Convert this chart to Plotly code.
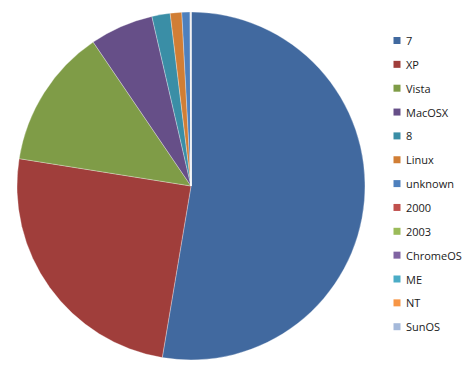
import plotly.graph_objects as go

labels = ["7", "XP", "Vista", "MacOSX", "8", "Linux", "unknown",
          "2000", "2003", "ChromeOS", "ME", "NT", "SunOS"]
values = [52.7, 24.9, 13.0, 5.9, 1.7, 1.07, 0.75,
          0.05, 0.02, 0.01, 0.005, 0.005, 0.002]
colors = ["#41699F", "#A03E3B", "#7F9C47", "#664F88", "#3A8EA6", "#D17E35",
          "#4E80BD", "#C0504D", "#9BBB59", "#8064A2", "#4BACC6", "#F79646",
          "#A5B9DA"]

W, H = 472, 371
cx, cy, r = 191, 186, 174

fig = go.Figure()
fig.add_trace(go.Pie(
    labels=labels, values=values, sort=False, direction="clockwise",
    rotation=0, textinfo="none", hoverinfo="label+percent",
    marker=dict(colors=colors, line=dict(color="rgba(255,255,255,0.5)", width=0.6)),
    domain=dict(x=[(cx - r) / W, (cx + r) / W],
                y=[(H - cy - r) / H, (H - cy + r) / H]),
    showlegend=False,
))

# manual legend
top, step = 40.5, 23.85
for i, (lab, col) in enumerate(zip(labels, colors)):
    yc = top + i * step
    fig.add_shape(type="rect", xref="paper", yref="paper",
                  x0=393.5 / W, x1=400.5 / W,
                  y0=(H - yc - 3.5) / H, y1=(H - yc + 3.5) / H,
                  fillcolor=col, line=dict(width=0))
    fig.add_annotation(text=lab, xref="paper", yref="paper",
                       x=404 / W, y=(H - yc) / H, xanchor="left", yanchor="middle",
                       showarrow=False,
                       font=dict(family="Open Sans", size=11, color="#1a1a1a"))

fig.update_layout(width=W, height=H, margin=dict(l=0, r=0, t=0, b=0),
                  paper_bgcolor="white", plot_bgcolor="white")
fig.write_html("out.html")
